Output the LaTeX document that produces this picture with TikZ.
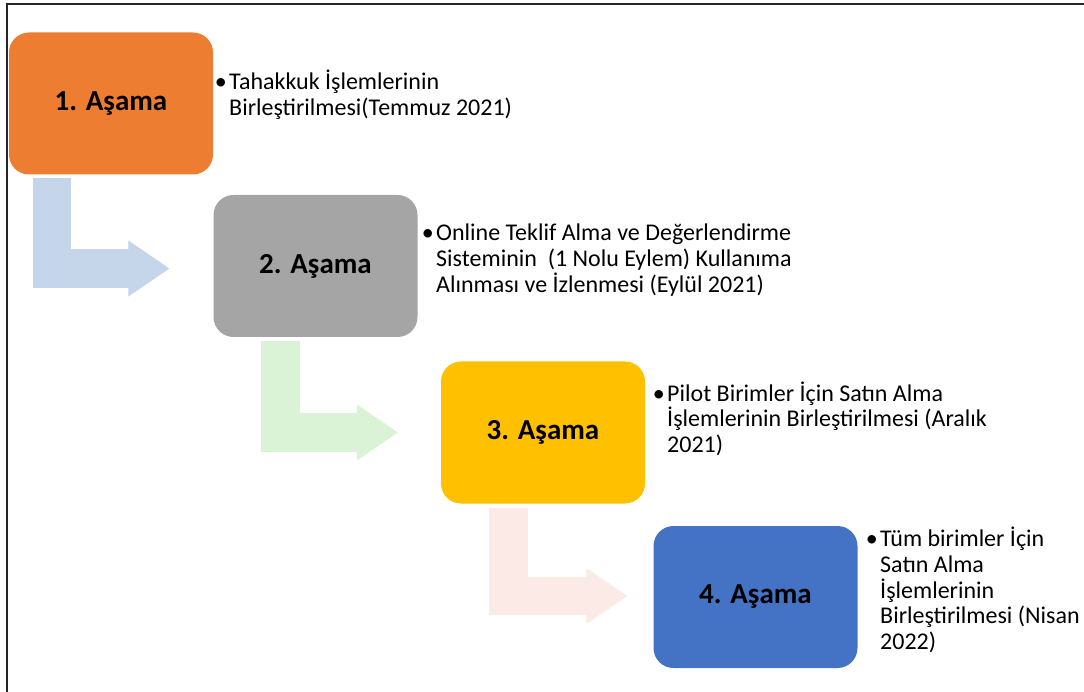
\documentclass[tikz,border=0pt]{standalone}
\usepackage{fontspec}
\setmainfont{Carlito}
\usetikzlibrary{arrows.meta}

% stage fills
\definecolor{stageOne}{HTML}{ED7D31}
\definecolor{stageTwo}{HTML}{A5A5A5}
\definecolor{stageThree}{HTML}{FFC000}
\definecolor{stageFour}{HTML}{4472C4}
% bent arrow fills
\definecolor{flowOne}{RGB}{197,213,234}
\definecolor{flowTwo}{RGB}{218,242,214}
\definecolor{flowThree}{RGB}{251,234,229}

\begin{document}
\begin{tikzpicture}[x=1pt,y=-1pt,
  stagebox/.style={rectangle, rounded corners=20pt, minimum width=204pt,
    minimum height=142pt, inner sep=0pt, text=black,
    font=\fontsize{29}{34}\selectfont\bfseries},
  % placed by the baseline of the last line
  stagenote/.style={anchor=base west, align=left, inner sep=0pt,
    font=\fontsize{24}{25.8}\selectfont},
  bentarrow/.style={line width=38.5pt, line join=miter, shorten <=#1,
    -{Triangle[length=41pt,width=56pt,line width=1pt]}}
]
\useasboundingbox (0,0) rectangle (1084,692);

% page frame
\draw[line width=1.8pt, black!85] (7,692) -- (7,4) -- (1084,4);

% stages
\node[stagebox, fill=stageOne]   (b1) at (111,103.5)  {1. Aşama};
\node[stagebox, fill=stageTwo]   (b2) at (315.5,266)  {2. Aşama};
\node[stagebox, fill=stageThree] (b3) at (543,432.5)  {3. Aşama};
\node[stagebox, fill=stageFour]  (b4) at (755.5,597)  {4. Aşama};

% bent arrows between stages
\draw[bentarrow=3pt, draw=flowOne]
  ([xshift=43pt]b1.south west) |- ([xshift=-44pt,yshift=-2.5pt]b2.west);
\draw[bentarrow=4pt, draw=flowTwo]
  ([xshift=67pt]b2.south west) |- ([xshift=-43pt]b3.west);
\draw[bentarrow=4pt, draw=flowThree]
  ([xshift=67.5pt]b3.south west) |- ([xshift=-26pt,yshift=1pt]b4.west);

% notes
\node[stagenote] (n1) at (229,115.3)
  {\llap{•\hspace{2.5pt}}Tahakkuk İşlemlerinin\\Birleştirilmesi(Temmuz 2021)};
\node[stagenote] (n2) at (436,292.1)
  {\llap{•\hspace{2.5pt}}Online Teklif Alma ve Değerlendirme\\Sisteminin\ \ (1 Nolu Eylem) Kullanıma\\Alınması ve İzlenmesi (Eylül 2021)};
\node[stagenote] (n3) at (667,452.6)
  {\llap{•\hspace{2.5pt}}Pilot Birimler İçin Satın Alma\\İşlemlerinin Birleştirilmesi (Aralık\\2021)};
\node[stagenote] (n4) at (880,649.7)
  {\llap{•\hspace{2.5pt}}Tüm birimler İçin\\Satın Alma\\İşlemlerinin\\Birleştirilmesi (Nisan\\2022)};
\end{tikzpicture}
\end{document}
